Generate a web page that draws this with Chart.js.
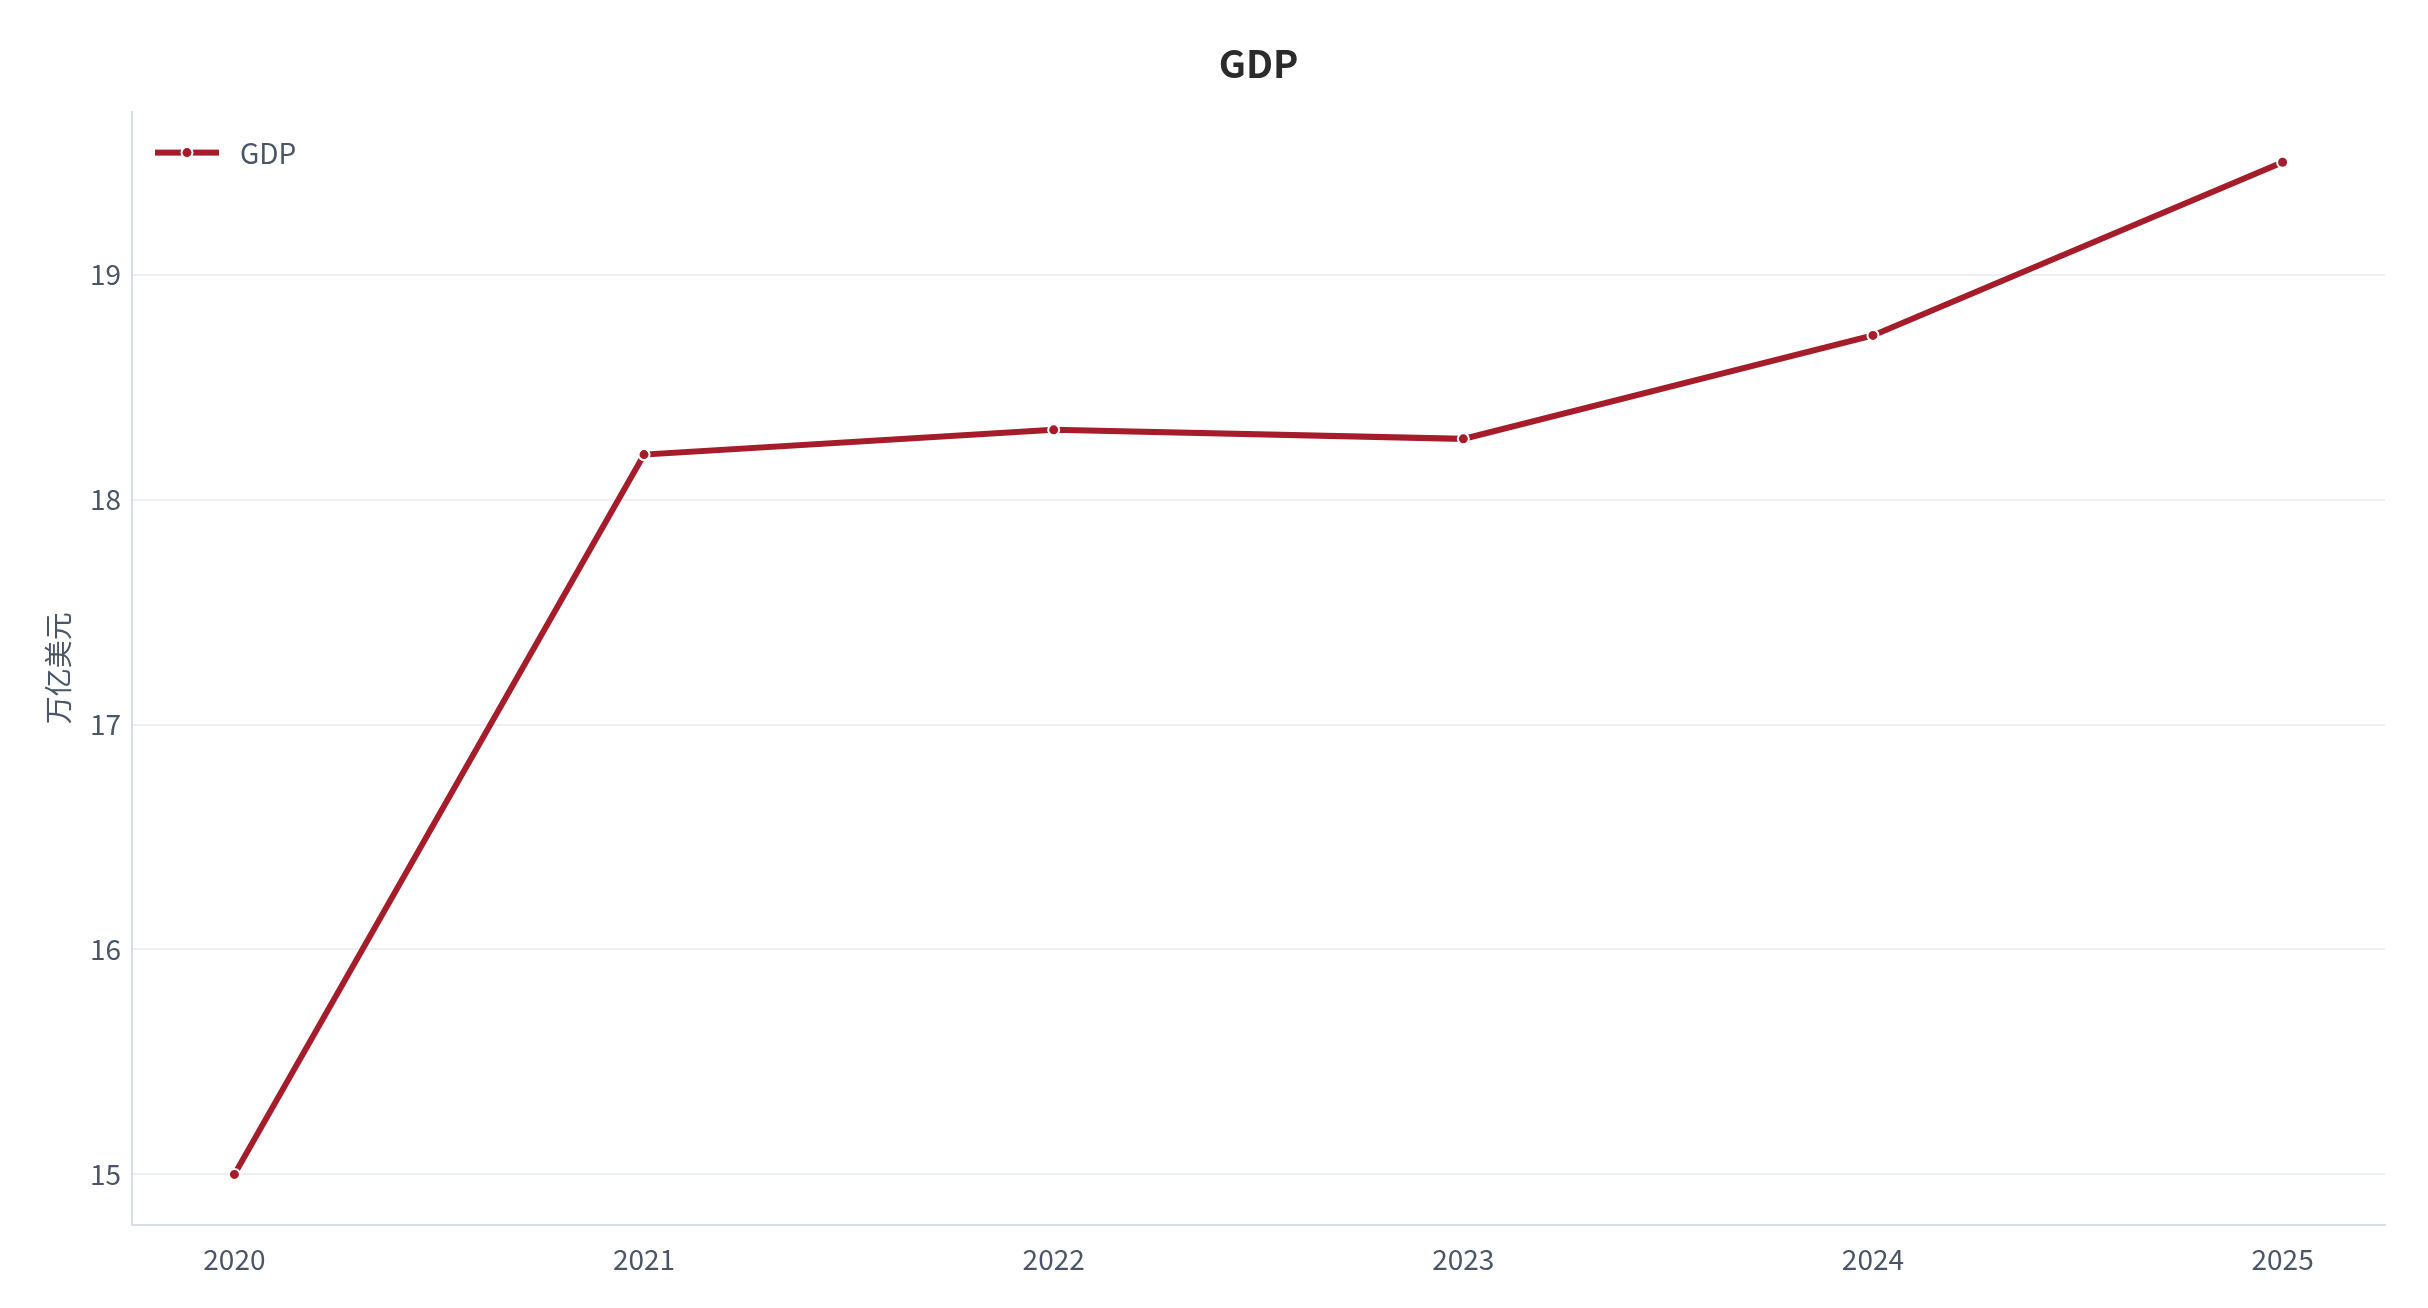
<!DOCTYPE html>
<html>
<head>
<meta charset="utf-8">
<script src="https://cdn.jsdelivr.net/npm/chart.js@4/dist/chart.umd.min.js"></script>
<style>
html,body{margin:0;padding:0;background:#fff;}
canvas{display:block;}
</style>
</head>
<body>
<canvas id="c" width="2428" height="1308"></canvas>
<script>
const years = [2020, 2021, 2022, 2023, 2024, 2025];
const gdpValues = [15.0, 18.2, 18.31, 18.27, 18.73, 19.5];
const yTickValues = [15, 16, 17, 18, 19];
const chartTitle = 'GDP';
const seriesName = 'GDP';
const yAxisTitle = '万亿美元';

const FONT = '"Noto Sans CJK SC", "Noto Sans", sans-serif';
const LINE = '#a51c2a';
const TEXT = '#4a5568';

// Title centred on the plot area; legend drawn inside plot area
const layoutPlugin = {
  id: 'layoutTweaks',
  afterLayout(chart) {
    const ca = chart.chartArea;
    if (chart.titleBlock) {
      chart.titleBlock.left = ca.left;
      chart.titleBlock.right = ca.right;
    }
  },
  afterDraw(chart) {
    const ctx = chart.ctx;
    const ca = chart.chartArea;
    ctx.save();
    chart.data.datasets.forEach((ds, i) => {
      const x0 = ca.left + 23, y = ca.top + 41 + i * 40;
      ctx.fillStyle = ds.borderColor;
      ctx.fillRect(x0, y - 3, 64, 6);
      ctx.beginPath(); ctx.arc(x0 + 32, y, 6.5, 0, Math.PI * 2);
      ctx.fillStyle = '#fff'; ctx.fill();
      ctx.beginPath(); ctx.arc(x0 + 32, y, 4.5, 0, Math.PI * 2);
      ctx.fillStyle = ds.borderColor; ctx.fill();
      ctx.fillStyle = TEXT;
      ctx.font = '28px ' + FONT;
      ctx.textBaseline = 'middle';
      ctx.textAlign = 'left';
      ctx.fillText(ds.label, x0 + 85, y + 1);
    });
    ctx.restore();
  }
};

new Chart(document.getElementById('c'), {
  type: 'line',
  data: {
    datasets: [{
      label: seriesName,
      data: years.map((y, i) => ({x: y, y: gdpValues[i]})),
      borderColor: LINE,
      backgroundColor: LINE,
      borderWidth: 6,
      pointRadius: 5.5,
      pointBorderWidth: 2,
      pointBorderColor: '#fff',
      pointBackgroundColor: LINE,
      tension: 0
    }]
  },
  plugins: [layoutPlugin],
  options: {
    responsive: false,
    animation: false,
    devicePixelRatio: 1,
    layout: { padding: { left: 0, right: 43, top: 0, bottom: 0 } },
    plugins: {
      title: {
        display: true, text: chartTitle, color: '#2b2b2b',
        font: { family: FONT, size: 38, weight: 'bold' },
        padding: { top: 41, bottom: 25 }
      },
      legend: { display: false },
      tooltip: { enabled: false }
    },
    scales: {
      x: {
        type: 'linear', min: 2019.75, max: 2025.25,
        afterFit: (s) => { s.height = 83; },
        grid: { display: false },
        border: { display: true, color: '#d8dde5', width: 2 },
        ticks: {
          stepSize: 1, includeBounds: false, padding: 10,
          color: TEXT, font: { family: FONT, size: 28 },
          callback: (v) => String(v)
        }
      },
      y: {
        min: 14.775, max: 19.725,
        afterFit: (s) => { s.width = 132; },
        afterBuildTicks: (s) => { s.ticks = yTickValues.map(v => ({value: v})); },
        grid: { color: '#eceff3', lineWidth: 2, drawTicks: false },
        border: { display: true, color: '#d8dde5', width: 2 },
        title: {
          display: true, text: yAxisTitle, color: TEXT,
          font: { family: FONT, size: 28 }, padding: { top: 42, bottom: 0 }
        },
        ticks: {
          padding: 11, color: TEXT, font: { family: FONT, size: 28 },
          callback: (v) => String(v)
        }
      }
    }
  }
});
</script>
</body>
</html>
